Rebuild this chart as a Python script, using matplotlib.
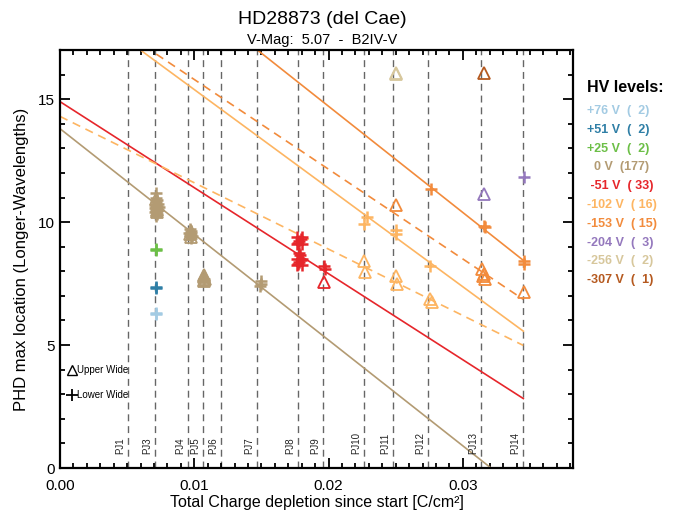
import matplotlib
matplotlib.use("Agg")
import numpy as np
import matplotlib.pyplot as plt
from matplotlib.ticker import MultipleLocator, FormatStrFormatter

plt.rcParams.update({
    "font.family": ["Liberation Sans", "DejaVu Sans"],
    "axes.linewidth": 1.6,
})

# perijove passes (accumulated charge at each PJ)
pj_names = ["PJ1", "PJ3", "PJ4", "PJ5", "PJ6", "PJ7", "PJ8", "PJ9",
            "PJ10", "PJ11", "PJ12", "PJ13", "PJ14"]
pj_charge = [0.00509, 0.00705, 0.00953, 0.01062, 0.01199, 0.01464, 0.01772,
             0.01962, 0.02263, 0.02483, 0.02741, 0.03133, 0.03450]

# HV levels and their colours
hv_labels = ["+76 V  (  2)", "+51 V  (  2)", "+25 V  (  2)", "  0 V  (177)",
             " -51 V  ( 33)", "-102 V  ( 16)", "-153 V  ( 15)", "-204 V  (  3)",
             "-256 V  (  2)", "-307 V  (  1)"]
hv_colors = ["#a3cbe3", "#2f7fa6", "#6cbf47", "#b39b73", "#e6262b",
             "#fdb562", "#f28b3c", "#9478bd", "#d7c79c", "#b5591f"]

# lower wide measurements (+)
low_x = [0.00712, 0.00715,
         0.00712, 0.00715,
         0.00712, 0.00715,
         0.00715, 0.00712, 0.00722, 0.00718, 0.00728, 0.00708, 0.00724, 0.00716,
         0.00730, 0.00710, 0.00722, 0.00716, 0.00734, 0.00704,
         0.00966, 0.00972, 0.00978, 0.00968, 0.00980, 0.00972, 0.00964,
         0.01074,
         0.01494, 0.01497, 0.01492,
         0.01764, 0.01773, 0.01782, 0.01791, 0.01800, 0.01800, 0.01764,
         0.01782, 0.01784,
         0.01764, 0.01773, 0.01782, 0.01791, 0.01800, 0.01800, 0.01764,
         0.01968, 0.01970,
         0.02283, 0.02266, 0.02504, 0.02504, 0.02754,
         0.02761, 0.03155, 0.03164, 0.03456, 0.03456,
         0.03456]
low_y = [6.28, 6.32,
         7.34, 7.38,
         8.85, 8.89,
         11.20, 11.00, 10.90, 10.80, 10.72, 10.68, 10.60, 10.52,
         10.48, 10.40, 10.32, 10.24, 10.62, 10.58,
         9.70, 9.62, 9.54, 9.48, 9.42, 9.36, 9.56,
         7.70,
         7.62, 7.50, 7.40,
         9.10, 9.17, 9.24, 9.31, 9.38, 9.10, 9.38,
         8.76, 8.66,
         8.24, 8.31, 8.38, 8.45, 8.52, 8.24, 8.52,
         8.23, 8.09,
         10.20, 9.93, 9.66, 9.52, 8.23,
         11.36, 9.86, 9.80, 8.42, 8.30,
         11.84]
low_hv = [0, 0,
          1, 1,
          2, 2,
          3, 3, 3, 3, 3, 3, 3, 3, 3, 3, 3, 3, 3, 3,
          3, 3, 3, 3, 3, 3, 3,
          3,
          3, 3, 3,
          4, 4, 4, 4, 4, 4, 4,
          4, 4,
          4, 4, 4, 4, 4, 4, 4,
          4, 4,
          5, 5, 5, 5, 5,
          6, 6, 6, 6, 6,
          7]

# upper wide measurements (triangles)
up_x = [0.00718, 0.00722, 0.00726, 0.00720, 0.00724,
        0.00974, 0.00970, 0.00976,
        0.01072, 0.01075, 0.01070, 0.01078, 0.01074, 0.01072,
        0.01968,
        0.02265, 0.02270, 0.02504, 0.02508, 0.02754, 0.02769,
        0.02501, 0.03144, 0.03158, 0.03165, 0.03150, 0.03456,
        0.03158,
        0.02501, 0.02503,
        0.03158]
up_y = [10.95, 10.80, 10.65, 10.50, 10.40,
        9.65, 9.50, 9.40,
        7.85, 7.80, 7.75, 7.70, 7.65, 7.60,
        7.58,
        8.43, 7.96, 7.82, 7.48, 6.87, 6.76,
        10.68, 8.09, 7.89, 7.68, 7.80, 7.14,
        11.16,
        16.06, 16.02,
        16.06]
up_hv = [3, 3, 3, 3, 3,
         3, 3, 3,
         3, 3, 3, 3, 3, 3,
         4,
         5, 5, 5, 5, 5, 5,
         6, 6, 6, 6, 6, 6,
         7,
         8, 8,
         9]

# linear trends of the peak location vs charge
fit_hv = [3, 4, 5, 5, 6, 6]
fit_dashed = [False, False, False, True, False, True]
fit_intercept = [13.8, 14.9, 19.4, 14.3, 23.35, 19.45]
fit_slope = [-430.0, -350.0, -401.0, -270.0, -432.0, -365.0]
fit_xmax = 0.0345

fig = plt.figure(figsize=(6.86, 5.12), dpi=100)
ax = fig.add_axes([60 / 686, 1 - 468 / 512, 513 / 686, 418 / 512])
ax.set_xlim(0, 0.0382)
ax.set_ylim(0, 17)

for name, xc in zip(pj_names, pj_charge):
    ax.axvline(xc, color="#666666", lw=1.0, dashes=(5, 3.5), zorder=1)
    ax.annotate(name, xy=(xc, 0.55), xytext=(-2, 0), textcoords="offset points",
                rotation=90, ha="right", va="bottom", fontsize=7, color="#222222")

xf = np.array([0.0, fit_xmax])
for hv, dashed, b, m in zip(fit_hv, fit_dashed, fit_intercept, fit_slope):
    kw = {"dashes": (5, 3.5)} if dashed else {}
    ax.plot(xf, b + m * xf, color=hv_colors[hv], lw=1.2, zorder=2, **kw)

low_x, low_y, up_x, up_y = map(np.array, (low_x, low_y, up_x, up_y))
low_hv, up_hv = np.array(low_hv), np.array(up_hv)
for i, c in enumerate(hv_colors):
    sel = low_hv == i
    if sel.any():
        ax.plot(low_x[sel], low_y[sel], "+", color=c, ms=9, mew=1.8, ls="none", zorder=3)
    sel = up_hv == i
    if sel.any():
        ax.plot(up_x[sel], up_y[sel], "^", mfc="none", mec=c, ms=9, mew=1.3,
                ls="none", zorder=3)

# symbol key
ax.plot([0.0009], [3.98], "^", mfc="none", mec="black", ms=7, mew=1.0)
ax.plot([0.0009], [2.96], "+", color="black", ms=8, mew=1.3)
ax.text(0.00128, 3.98, "Upper Wide", fontsize=7, va="center")
ax.text(0.00128, 2.96, "Lower Wide", fontsize=7, va="center")

ax.xaxis.set_major_locator(MultipleLocator(0.01))
ax.xaxis.set_minor_locator(MultipleLocator(0.001))
ax.xaxis.set_major_formatter(FormatStrFormatter("%.2f"))
ax.yaxis.set_major_locator(MultipleLocator(5))
ax.yaxis.set_minor_locator(MultipleLocator(1))
ax.tick_params(which="both", direction="in", top=True, right=True, width=1.3)
ax.tick_params(which="major", length=7.5, labelsize=11)
ax.tick_params(which="minor", length=3.5)
ax.tick_params(axis="x", which="major", pad=8)
ax.tick_params(axis="y", which="major", pad=4)

ax.set_xlabel("Total Charge depletion since start [C/cm²]", fontsize=11.5, labelpad=1)
ax.set_ylabel("PHD max location (Longer-Wavelengths)", fontsize=12, labelpad=6)

fig.text(0.47, 1 - 19 / 512, "HD28873 (del Cae)", fontsize=14, ha="center", va="center")
fig.text(0.47, 1 - 40 / 512, "V-Mag:  5.07  -  B2IV-V", fontsize=10.5, ha="center", va="center")

fig.text(587 / 686, 1 - 88 / 512, "HV levels:", fontsize=11.5, fontweight="bold",
         ha="left", va="center")
for k, (lab, c) in enumerate(zip(hv_labels, hv_colors)):
    fig.text(587 / 686, 1 - (111 + 18.8 * k) / 512, lab, fontsize=9, fontweight="bold",
             color=c, ha="left", va="center")

fig.savefig("out.png", dpi=100)
